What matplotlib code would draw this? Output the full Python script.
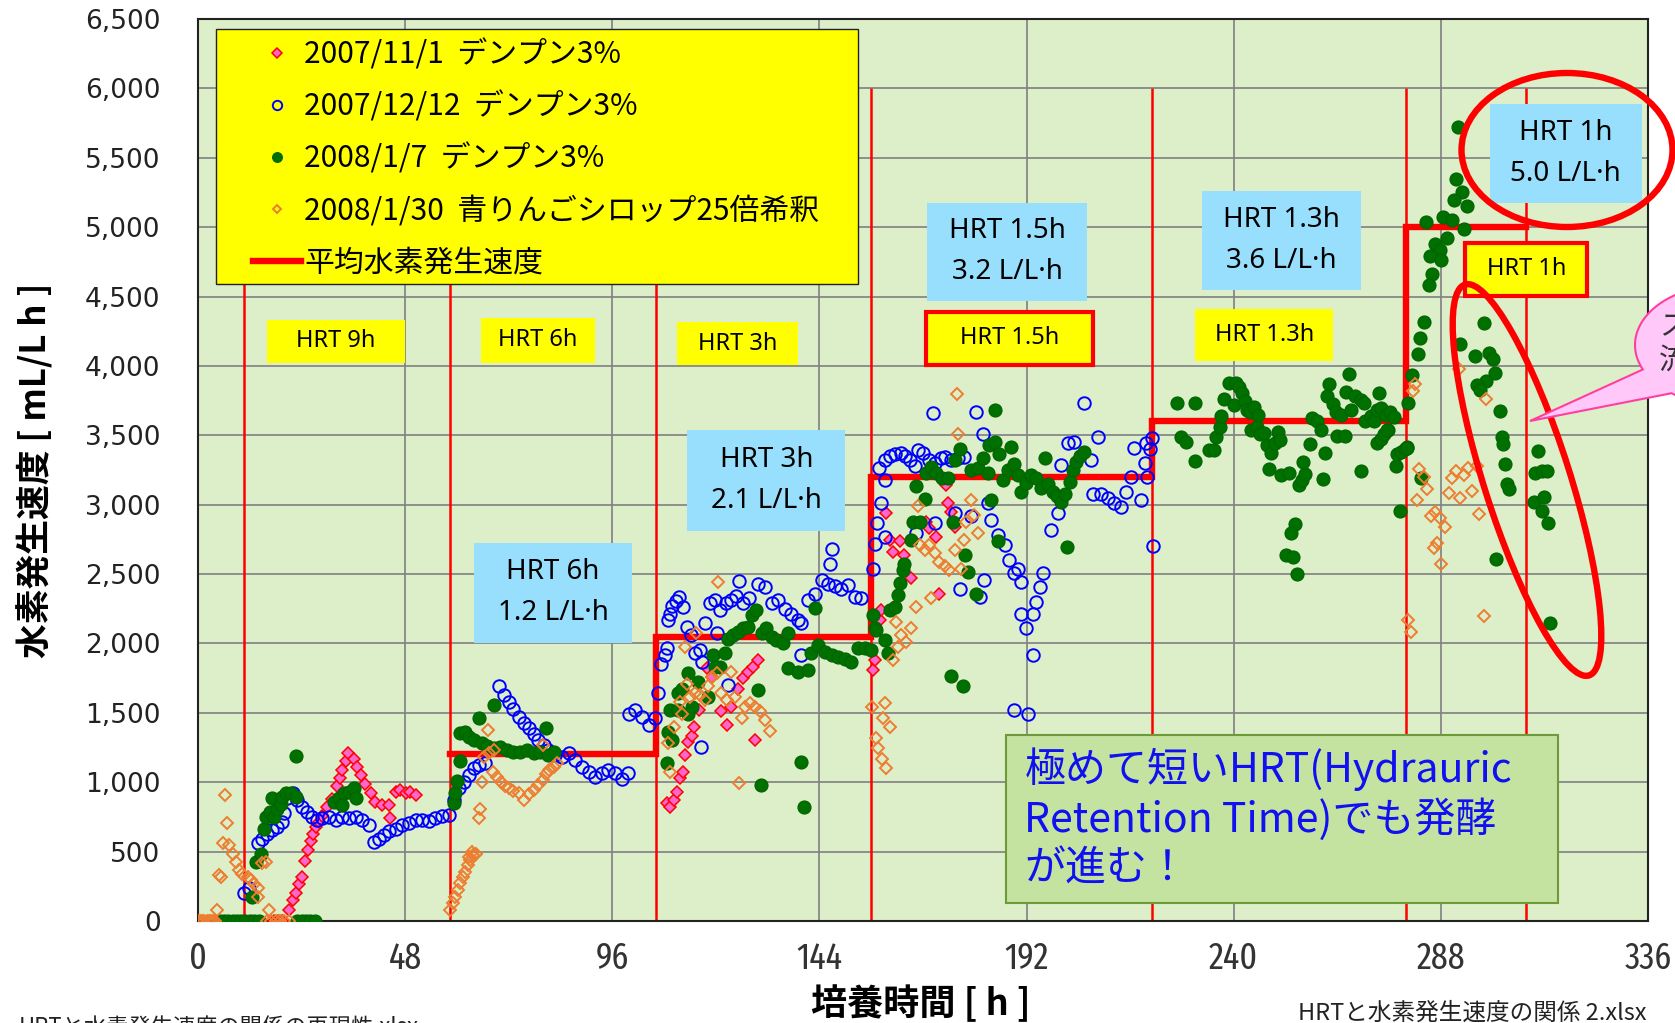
import numpy as np
import matplotlib
matplotlib.use("Agg")
import matplotlib.pyplot as plt
import matplotlib.transforms as mtransforms
from matplotlib.patches import Rectangle, Ellipse, Polygon
from matplotlib.ticker import FuncFormatter, MultipleLocator

plt.rcParams['font.family'] = ['Noto Sans CJK JP', 'DejaVu Sans']

# ---------------------------------------------------------------- data
# (time [h], H2 rate [mL/L h])
PINK = [  # 2007/11/1 starch 3%
    (17.5, 0), (18.5, 0), (19.5, 0), (21.1, 80), (21.9, 150), (22.6, 200), (23.4, 270),
    (24.2, 320), (24.9, 430), (25.6, 510), (26.1, 580), (26.6, 630), (27.3, 680),
    (28.0, 715), (28.8, 760), (30.0, 820), (31.1, 880), (32.3, 970), (33.0, 1030),
    (33.4, 1090), (34.2, 1150), (34.7, 1210), (36.1, 1170), (36.9, 1110), (37.7, 1050),
    (38.8, 990), (40.0, 920), (41.1, 860), (42.7, 835), (44.2, 835), (44.6, 740),
    (45.8, 930), (46.9, 945), (48.1, 920), (49.2, 930), (50.4, 905),
    (108.6, 850), (109.4, 820), (110.2, 870), (110.9, 930), (111.7, 1030), (112.5, 1075),
    (112.8, 1195), (113.6, 1290), (114.4, 1330), (115.0, 1400), (116.2, 1520),
    (117.9, 1820), (119.0, 1760), (121.3, 1510), (122.5, 1410), (123.6, 1545),
    (125.2, 1675), (126.3, 1750), (127.5, 1795), (128.7, 1830), (129.8, 1880), (129.0, 1305),
    (156.4, 1810), (156.8, 1880), (158.0, 2170), (158.3, 2240), (159.5, 2940), (160.3, 2745),
    (161.0, 2660), (162.6, 2735), (163.7, 2635), (165.3, 2470), (168.7, 2875), (169.5, 2830),
    (171.1, 2770), (171.8, 2360), (173.4, 3140), (173.8, 3010), (174.5, 2950), (175.3, 2840),
]

BLUE = [  # 2007/12/12 starch 3%
    (10.7, 200), (11.8, 235), (13.8, 560), (14.9, 590), (16.1, 625), (17.2, 655), (18.4, 680),
    (19.5, 715), (19.9, 775), (20.7, 885), (21.9, 920), (23.0, 870), (24.2, 825), (25.3, 785),
    (26.5, 750), (27.6, 725), (28.8, 740), (30.3, 750), (31.9, 725), (33.4, 750), (35.0, 740),
    (36.5, 750), (38.1, 725), (39.6, 690), (40.8, 570), (41.9, 590), (43.1, 620), (44.2, 645),
    (45.8, 660), (47.3, 690), (48.9, 705), (50.4, 725), (51.9, 730), (53.5, 720), (55.0, 745),
    (56.6, 755), (58.1, 765), (59.3, 870), (60.4, 955), (61.6, 1005), (62.7, 1050),
    (63.9, 1100), (65.0, 1125), (66.6, 1135), (69.7, 1690), (70.8, 1630), (72.0, 1580),
    (73.1, 1530), (74.3, 1470), (75.5, 1425), (76.6, 1390), (77.8, 1350), (78.9, 1305),
    (80.1, 1270), (81.2, 1230), (82.8, 1195), (84.3, 1185), (85.9, 1210), (87.4, 1160),
    (88.9, 1110), (90.5, 1075), (92.0, 1040), (93.6, 1065), (95.1, 1085), (96.6, 1065),
    (98.2, 1025), (99.7, 1065),
    (99.9, 1495), (101.3, 1520), (102.8, 1470), (104.4, 1410), (105.9, 1460), (106.7, 1640),
    (107.3, 1855), (108.1, 1915), (108.6, 1965),
    (109.0, 2170), (109.4, 2215), (109.9, 2270), (110.7, 2305), (111.5, 2335), (112.5, 2260),
    (113.2, 2120), (114.2, 2060), (115.2, 1930), (116.3, 1950), (116.7, 1870), (117.6, 2145),
    (118.6, 2295), (119.8, 2315), (120.9, 2240), (120.2, 2075), (122.3, 2290), (123.5, 2315),
    (124.6, 2340), (125.3, 2450), (126.3, 2290), (127.6, 2330), (129.8, 2430), (131.3, 2410),
    (132.9, 2290), (134.4, 2315), (136.0, 2245), (137.5, 2210), (139.1, 2170), (139.8, 2145),
    (141.4, 2315), (142.9, 2355), (144.5, 2460), (146.0, 2430), (147.5, 2415), (149.1, 2395),
    (150.6, 2420), (152.2, 2335), (153.7, 2325), (146.8, 2680), (146.4, 2575), (139.8, 1915),
    (122.9, 1700), (116.5, 1255),
    (156.4, 2540), (156.8, 2720), (157.4, 2865), (158.3, 3015), (157.9, 3265), (159.1, 3325),
    (160.3, 3350), (161.4, 3365), (162.8, 3370), (163.9, 3350), (165.1, 3320), (166.2, 3280),
    (166.8, 3395), (168.0, 3375), (169.5, 3320), (170.7, 3300), (172.1, 3335), (173.0, 3345),
    (174.5, 3320), (176.1, 3335), (177.6, 3345), (159.1, 3175), (170.3, 3660), (180.3, 3670),
    (181.9, 3510), (159.1, 2770), (166.4, 2795), (170.7, 2865), (175.3, 2940), (179.2, 2915),
    (183.0, 3010), (183.8, 2890), (185.3, 2780), (186.9, 2710), (188.0, 2600), (189.2, 2505),
    (190.7, 2445), (190.0, 2540), (176.5, 2395), (181.1, 2335), (182.2, 2455), (190.7, 2215),
    (191.9, 2110), (193.4, 2215), (194.2, 2300), (195.0, 2410), (195.7, 2505), (193.4, 1915),
    (189.2, 1520), (192.3, 1495), (197.7, 2820), (199.2, 2940), (200.0, 3285), (201.5, 3445),
    (203.0, 3455), (205.4, 3730), (206.9, 3320), (208.5, 3490), (207.3, 3080), (209.2, 3080),
    (210.8, 3045), (212.3, 3010), (213.9, 2985), (215.0, 3095), (216.2, 3200), (217.0, 3405),
    (218.5, 3035), (219.7, 3445), (219.5, 3300), (220.0, 3200), (220.5, 3400), (221.0, 3480),
    (221.2, 2700),
]

GREEN = [  # 2008/1/7 starch 3%
    (5, 0), (6, 0), (7, 0), (8, 0), (9, 0), (10, 0), (11, 0), (12, 0), (13, 0), (14.2, 0),
    (23, 0), (24, 0), (25, 0), (26, 0), (27, 0),
    (12.6, 175), (13.4, 425), (14.5, 485), (15.3, 665), (15.7, 750), (16.6, 785), (17.6, 750),
    (17.2, 885), (18.4, 810), (19.2, 845), (19.5, 895), (20.3, 920), (21.5, 920), (22.6, 895),
    (22.6, 1190), (31.5, 860), (32.7, 885), (33.8, 920), (35.0, 930), (36.1, 955), (36.5, 885),
    (33.4, 835),
    (59.3, 850), (59.6, 920), (60.0, 1010), (60.7, 1155), (60.8, 1355), (61.9, 1365),
    (62.7, 1325), (63.9, 1305), (65.0, 1465), (65.8, 1280), (67.0, 1260), (68.5, 1560),
    (68.5, 1245), (70.0, 1255), (71.6, 1235), (73.1, 1220), (74.7, 1220), (76.2, 1235),
    (77.8, 1210), (79.3, 1220), (80.6, 1390), (81.2, 1195), (82.6, 1220),
    (108.6, 1135), (109.0, 1365), (109.8, 1305), (109.4, 1520), (111.3, 1640), (112.1, 1675),
    (113.6, 1785), (114.4, 1545), (115.9, 1725), (118.2, 1615), (119.4, 1915), (120.9, 1830),
    (122.1, 1930), (122.9, 2035), (124.0, 2060), (125.2, 2085), (126.3, 2110), (127.5, 2120),
    (128.3, 2205), (129.4, 2240), (130.6, 2075), (131.7, 2110), (132.9, 2050), (134.0, 2025),
    (135.6, 2000), (136.7, 2075), (129.8, 1665), (139.8, 1145), (130.4, 980), (140.5, 825),
    (136.7, 1820), (139.1, 1795), (141.4, 1810), (142.9, 2255), (142.1, 1930), (143.7, 1990),
    (145.2, 1940), (146.8, 1915), (148.3, 1905), (149.9, 1890), (151.4, 1870), (153.0, 1965),
    (154.5, 1965), (156.0, 1950), (156.8, 2110), (156.4, 2205), (111.3, 1520), (113.6, 1495),
    (119.8, 1830),
    (157.2, 2095), (159.1, 2025), (159.9, 1930), (160.3, 2240), (161.4, 2265), (162.2, 2350),
    (162.6, 2435), (163.4, 2530), (163.7, 2575), (165.3, 2745), (165.7, 2875), (167.2, 2875),
    (166.4, 3135), (168.4, 3040), (168.8, 3225), (169.9, 3270), (171.1, 3230), (172.3, 3190),
    (173.8, 3190), (175.0, 2875), (175.4, 3325), (176.5, 3400), (177.8, 2635), (178.4, 2515),
    (180.3, 2360), (179.2, 3250), (180.7, 3265), (181.9, 3335), (183.0, 3225), (183.4, 3430),
    (183.8, 3035), (184.6, 3455), (185.3, 2735), (185.7, 3365), (186.5, 3180), (187.6, 3250),
    (188.4, 3415), (189.2, 3295), (190.0, 3215), (190.7, 3095), (191.9, 3155), (193.0, 3215),
    (194.2, 3190), (195.3, 3120), (196.3, 3335), (197.0, 3150), (198.1, 3095), (199.1, 3060),
    (200.0, 3020), (200.9, 3080), (201.4, 2695), (202.1, 3165), (202.7, 3250), (203.4, 3310),
    (204.4, 3350), (205.4, 3380), (174.4, 1765), (177.2, 1690), (184.7, 3685),
    (226.8, 3735), (231.0, 3735), (227.7, 3490), (228.9, 3455), (231.0, 3315), (234.3, 3395),
    (235.4, 3395), (235.8, 3485), (236.8, 3560), (237.1, 3640), (237.7, 3760), (238.9, 3880),
    (240.1, 3720), (240.5, 3875), (241.2, 3845), (242.0, 3805), (242.5, 3745), (243.0, 3685),
    (243.7, 3665), (244.7, 3705), (245.6, 3645), (244.1, 3540), (245.3, 3560), (246.1, 3510),
    (247.0, 3515), (247.8, 3430), (248.7, 3375), (249.5, 3445), (250.2, 3525), (250.7, 3465),
    (248.2, 3255), (251.0, 3215), (252.8, 3225), (255.1, 3140), (255.9, 3180), (256.6, 3220),
    (256.1, 3310), (257.6, 3440), (258.2, 3625), (259.4, 3600), (260.2, 3540), (261.2, 3375),
    (260.7, 3185), (262.0, 3870), (261.7, 3785), (263.1, 3725), (263.6, 3670), (264.9, 3645),
    (266.1, 3810), (266.7, 3940), (267.1, 3685), (268.2, 3785), (269.4, 3755), (270.1, 3735),
    (264.0, 3495), (265.7, 3495), (269.5, 3245), (270.5, 3600), (271.7, 3640), (272.4, 3605),
    (273.1, 3685), (273.6, 3805), (274.2, 3695), (275.2, 3645), (276.2, 3665), (277.1, 3630),
    (273.1, 3445), (274.2, 3470), (274.9, 3510), (275.7, 3540), (277.9, 3365), (278.8, 3380),
    (279.6, 3400), (280.2, 3415), (277.5, 3280), (280.5, 3730), (281.3, 3935), (278.5, 2955),
    (254.1, 2860), (253.2, 2795), (252.1, 2635), (253.7, 2625), (254.7, 2500),
    (291.9, 5725), (291.6, 5350), (292.9, 5255), (291.1, 5195), (294.1, 5155), (284.6, 5040),
    (288.5, 5075), (290.6, 5050), (293.4, 4985), (289.4, 4925), (286.7, 4875), (287.7, 4835),
    (285.4, 4790), (288.0, 4765), (286.0, 4660), (285.2, 4585), (284.0, 4315), (283.1, 4200),
    (282.6, 4085), (298.1, 4310), (292.5, 4155), (296.0, 4070), (299.1, 4090),
    (300.1, 4050), (300.6, 3950), (298.5, 3890), (296.4, 3860), (297.1, 3825), (301.6, 3675),
    (302.1, 3485), (302.5, 3440), (302.9, 3295), (303.3, 3150), (303.9, 3110), (310.4, 3390),
    (309.9, 3225), (311.4, 3240), (312.6, 3245), (309.5, 3020), (311.9, 3055), (311.5, 2955),
    (312.9, 2865), (313.3, 2145), (300.8, 2610), (275.6, 3535), (280.2, 3405), (283.3, 3190),
]

ORANGE = [  # 2008/1/30 green-apple syrup x25
    (0, 0), (0.5, 0), (1, 0), (1.5, 0), (2, 0), (2.5, 0), (3, 0), (3.5, 0), (4, 0),
    (16, 0), (17, 0), (18, 0), (19, 0), (20, 0), (21, 0),
    (4.5, 80), (4.9, 330), (6.3, 905), (6.8, 705), (5.7, 560), (7.2, 545), (8.0, 485),
    (8.7, 425), (9.5, 365), (10.3, 340), (11.5, 320), (12.2, 295), (13.0, 270), (13.8, 235),
    (5.3, 320), (14.9, 415), (15.7, 425), (13.8, 175), (16.5, 80),
    (58.5, 80), (59.0, 130), (59.6, 175), (60.3, 225), (60.8, 275), (61.3, 320), (61.9, 355),
    (62.6, 400), (63.1, 440), (63.7, 475), (64.4, 485), (67.2, 1375), (66.2, 1185),
    (67.4, 1210), (68.5, 1230), (68.3, 1075), (69.3, 1040), (70.3, 1005), (71.2, 970),
    (72.1, 955), (73.1, 940), (74.3, 920), (75.5, 875), (76.6, 915), (77.8, 945), (78.9, 980),
    (79.9, 1015), (80.6, 1060), (81.4, 1085), (82.4, 1110), (83.2, 1140), (65.8, 1005),
    (65.4, 810), (65.0, 740), (63.5, 500), (62.7, 460), (79.9, 1270),
    (120.4, 2440), (115.5, 2075), (112.8, 1975), (113.2, 1710), (111.7, 1580), (114.0, 1615),
    (115.2, 1640), (116.3, 1630), (117.5, 1590), (118.2, 1690), (119.0, 1760), (120.2, 1785),
    (121.3, 1640), (122.5, 1590), (123.6, 1795), (124.4, 1615), (126.0, 1460), (126.7, 1545),
    (127.9, 1570), (129.0, 1545), (130.2, 1510), (131.3, 1450), (132.5, 1370), (110.2, 1400),
    (109.0, 1280), (109.4, 1075), (125.3, 995), (112.1, 1495),
    (156.2, 1545), (159.1, 1570), (158.7, 1460), (160.3, 1400), (157.0, 1320), (157.5, 1250),
    (158.5, 1170), (159.5, 1100), (161.0, 1880), (162.2, 1975), (163.0, 2060), (164.1, 2010),
    (165.3, 2110), (161.8, 2155), (166.4, 2265), (169.9, 2325), (166.8, 2990), (167.2, 2710),
    (168.4, 2675), (169.5, 2710), (170.7, 2650), (171.8, 2590), (173.0, 2555), (174.1, 2530),
    (175.3, 2675), (176.8, 2540), (177.4, 2745), (179.2, 3035), (178.0, 2875), (179.9, 2925),
    (180.7, 2795), (175.9, 3795), (176.2, 3510),
    (282.1, 3870), (281.6, 3820), (292.3, 3975), (298.5, 3760), (282.9, 3255), (284.0, 3200),
    (284.8, 3110), (282.5, 3035), (285.6, 2920), (286.7, 2945), (287.9, 2905), (289.0, 2840),
    (287.1, 2725), (286.3, 2685), (288.0, 2570), (289.8, 3085), (290.6, 3190), (291.4, 3240),
    (292.5, 3045), (293.3, 3215), (294.4, 3265), (295.2, 3100), (296.4, 3280), (296.8, 2930),
    (280.5, 2170), (281.1, 2080), (298.0, 2195),
]

# HRT phase boundaries [h] and mean hydrogen production rate per phase
PHASE_T = [10.6, 58.5, 106.2, 155.9, 221.1, 279.9, 307.8]
STEP_EDGES = [58.5, 106.2, 155.9, 221.1, 279.9, 307.8]
STEP_LEVELS = [1200, 2050, 3200, 3600, 5000]

LABELS = ["2007/11/1  デンプン3%", "2007/12/12  デンプン3%", "2008/1/7  デンプン3%",
          "2008/1/30  青りんごシロップ25倍希釈", "平均水素発生速度"]

# ---------------------------------------------------------------- figure
W, H = 1675, 1023
fig = plt.figure(figsize=(W / 100, H / 100), dpi=100)
ax = fig.add_axes([198 / W, 1 - 921 / H, 1450 / W, 902 / H])
ax.set_facecolor("#dcefc8")

# full-image pixel coordinates (y down) -> display
PX = mtransforms.Affine2D().scale(1 / W, -1 / H).translate(0, 1) + fig.transFigure

ax.set_xlim(0, 336)
ax.set_ylim(0, 6500)
ax.xaxis.set_major_locator(MultipleLocator(48))
ax.yaxis.set_major_locator(MultipleLocator(500))
ax.yaxis.set_major_formatter(FuncFormatter(lambda v, p: f"{v:,.0f}"))
ax.grid(True, color="#808080", lw=1.2, zorder=0)
ax.set_axisbelow(True)
ax.tick_params(length=0)
ax.tick_params(axis="x", pad=14, labelsize=26.5, labelcolor="#333333")
ax.tick_params(axis="y", pad=27, labelsize=19, labelcolor="#222222")
for lab in ax.get_xticklabels():
    lab.set_family(["Fira Sans Extra Condensed", "Liberation Sans Narrow", "DejaVu Sans"])
for lab in ax.get_yticklabels():
    lab.set_family(["DejaVu Sans"])
for s in ax.spines.values():
    s.set_color("#222222")
    s.set_linewidth(1.5)

# phase lines and the mean-rate step
ax.vlines(PHASE_T, 0, 6000, colors="red", lw=1.8, zorder=2)
sx = np.repeat(STEP_EDGES, 2)[1:-1]
sy = np.repeat(STEP_LEVELS, 2)
step, = ax.plot(sx, sy, color="red", lw=4.6, solid_joinstyle="miter", zorder=2.5,
                label=LABELS[4])

# scatter series
pt, pv = np.array(PINK).T
bt, bv = np.array(BLUE).T
gt, gv = np.array(GREEN).T
ot, ov = np.array(ORANGE).T
h_pink, = ax.plot(pt, pv, ls="none", marker="D", ms=6.2, mfc="#ff66cc", mec="red",
                  mew=1.1, zorder=3, label=LABELS[0])
h_blue, = ax.plot(bt, bv, ls="none", marker="o", ms=9.0, mfc="none", mec="#0000ff",
                  mew=1.4, zorder=3.1, label=LABELS[1])
h_green, = ax.plot(gt, gv, ls="none", marker="o", ms=9.4, mfc="#007000", mec="#006400",
                   mew=0.8, zorder=3.2, label=LABELS[2])
h_orange, = ax.plot(ot, ov, ls="none", marker="D", ms=6.0, mfc="none", mec="#ed7d31",
                    mew=1.4, zorder=3.3, label=LABELS[3])

# legend on its yellow panel
ax.add_patch(Rectangle((18 / 1450, 637 / 902), 642 / 1450, 255 / 902, transform=ax.transAxes,
                       facecolor="#ffff00", edgecolor="#222222", lw=1.0, zorder=6))
leg = ax.legend(handles=[h_pink, h_blue, h_green, h_orange, step], labels=LABELS,
                loc="upper left", bbox_to_anchor=(253 / W, 1 - 39 / H),
                bbox_transform=fig.transFigure, frameon=False, borderpad=0,
                borderaxespad=0, fontsize=21.5, labelspacing=0.7, handlelength=1.62,
                handletextpad=0.1, markerscale=0.75)
leg.set_zorder(7)


# HRT annotation boxes
def box(x0, x1, y0, y1, text, face, edge=None, lw=0, fs=17, ls=1.2):
    ax.add_patch(Rectangle((x0, y0), x1 - x0, y1 - y0, facecolor=face,
                           edgecolor=edge if edge else face, lw=lw, zorder=5, clip_on=False))
    ax.text((x0 + x1) / 2, (y0 + y1) / 2, text, ha="center", va="center", fontsize=fs,
            family=["Noto Sans", "Noto Sans CJK JP"], linespacing=ls, zorder=5.5)


YEL, SKY = "#ffff00", "#97dffd"
box(16.1, 47.9, 4022, 4330, "HRT 9h", YEL)
box(65.5, 92.1, 4022, 4345, "HRT 6h", YEL)
box(110.9, 139.1, 4006, 4314, "HRT 3h", YEL)
box(168.7, 207.3, 4006, 4391, "HRT 1.5h", YEL, "red", 3)
box(231.0, 263.1, 4037, 4407, "HRT 1.3h", YEL)
box(293.7, 321.9, 4507, 4884, "HRT 1h", YEL, "red", 3)
box(64.0, 100.5, 2003, 2727, "HRT 6h\n1.2 L/L·h", SKY, fs=20, ls=1.62)
box(113.4, 150.0, 2812, 3536, "HRT 3h\n2.1 L/L·h", SKY, fs=20, ls=1.62)
box(169.0, 206.0, 4468, 5177, "HRT 1.5h\n3.2 L/L·h", SKY, fs=20, ls=1.62)
box(232.7, 269.5, 4545, 5262, "HRT 1.3h\n3.6 L/L·h", SKY, fs=20, ls=1.62)
box(299.4, 334.5, 5177, 5886, "HRT 1h\n5.0 L/L·h", SKY, fs=20, ls=1.62)

# comment box
ax.add_patch(Rectangle((187.3, 131), 315.2 - 187.3, 1340 - 131, facecolor="#c4e3a0",
                       edgecolor="#6f9a3a", lw=1.5, zorder=5))
ax.text(191.5, 740, "極めて短いHRT(Hydrauric\nRetention Time)でも発酵\nが進む！",
        ha="left", va="center", fontsize=29.5, color="#1010f0", linespacing=1.22, zorder=5.5)

# red ellipses
fig.add_artist(Ellipse((1567, 150), 211, 154, transform=PX, fill=False, ec="red", lw=4.6))
fig.add_artist(Ellipse((1527, 480), 86, 410, angle=-17.6, transform=PX, fill=False,
                       ec="red", lw=4.6))

# pink callout running off the right edge
th = np.radians(np.linspace(155.9, 486.5, 120))
bub = np.column_stack([1725 + 90 * np.cos(th), 345 + 60 * np.sin(th)])
bub = np.vstack([bub, [[1530, 421]]])
fig.add_artist(Polygon(bub, closed=True, transform=PX, facecolor="#ffc8f8",
                       edgecolor="#ff3fa0", lw=1.5))
fig.text(1659 / W, 1 - 344 / H, "スラッジが\n流出", ha="left", va="center", fontsize=21,
         color="#333333", linespacing=1.2)

# axis titles and footers
fig.text(35 / W, 1 - 470 / H, "水素発生速度 [ mL/L h ]", rotation=90, ha="center",
         va="center", fontsize=25, fontweight="bold")
fig.text(921 / W, 1 - 1004 / H, "培養時間 [ h ]", ha="center", va="center", fontsize=26,
         fontweight="bold")
fig.text(1298 / W, 1 - 1013 / H, "HRTと水素発生速度の関係 2.xlsx", ha="left", va="center",
         fontsize=17, color="#222222")
fig.text(19 / W, 1 - 1017 / H, "HRTと水素発生速度の関係の再現性.xlsx", ha="left", va="top",
         fontsize=16, color="#222222")

fig.savefig("out.png", dpi=100)
